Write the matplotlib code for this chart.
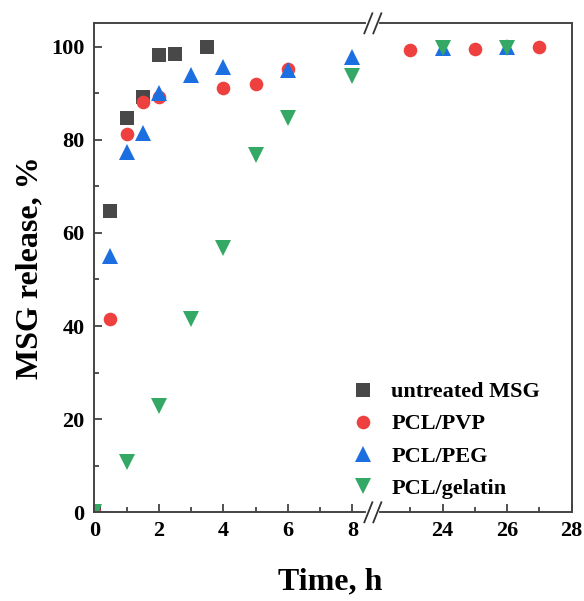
import matplotlib
matplotlib.use('Agg')
import matplotlib.pyplot as plt
import numpy as np
from matplotlib.ticker import FixedLocator

# ------------------------------------------------------------------
# Data
# ------------------------------------------------------------------
t_msg = [0, 0.5, 1, 1.5, 2, 2.5, 3.5]
msg = [0, 64.8, 84.6, 89.2, 98.1, 98.5, 100.0]

t_pvp = [0, 0.5, 1, 1.5, 2, 4, 5, 6, 23, 25, 27]
pvp = [0, 41.6, 81.3, 88.2, 89.2, 91.2, 91.9, 95.1, 99.3, 99.4, 100.0]

t_peg = [0, 0.5, 1, 1.5, 2, 3, 4, 6, 8, 24, 26]
peg = [0, 55.1, 77.3, 81.5, 90.0, 93.8, 95.7, 95.0, 97.8, 99.8, 100.0]

t_gel = [0, 1, 2, 3, 4, 5, 6, 8, 24, 26]
gel = [0, 10.9, 22.9, 41.4, 56.8, 76.8, 84.7, 93.7, 99.7, 99.8]

labels = ['untreated MSG', 'PCL/PVP', 'PCL/PEG', 'PCL/gelatin']
x_major = [0, 2, 4, 6, 8, 24, 26, 28]
x_minor = [1, 3, 5, 7, 23, 25, 27]

# ------------------------------------------------------------------
# broken x axis: 8.6 h ... 21.85 h squeezed to almost nothing
# ------------------------------------------------------------------
lo, hi, eps = 8.63, 21.85, 0.001
shift = (hi - lo) * (1 - eps)

def fwd(t):
    t = np.asarray(t, dtype=float)
    return np.where(t <= lo, t, np.where(t >= hi, t - shift, lo + (t - lo) * eps))

def inv(p):
    p = np.asarray(p, dtype=float)
    pmid = lo + (hi - lo) * eps
    return np.where(p <= lo, p, np.where(p >= pmid, p + shift, lo + (p - lo) / eps))

plt.rcParams['font.family'] = 'serif'
plt.rcParams['font.serif'] = ['Liberation Serif', 'DejaVu Serif']
plt.rcParams['font.weight'] = 'bold'

fig = plt.figure(figsize=(5.84, 6.01), dpi=100)
ax = fig.add_axes([0.1615, 0.1476, 0.8175, 0.8136])
ax.set_xscale('function', functions=(fwd, inv))

ax.plot(t_msg, msg, 's', ms=9.6, color='#484848', mew=0, label=labels[0])
ax.plot(t_pvp, pvp, 'o', ms=9.8, color='#ef4040', mew=0, label=labels[1])
ax.plot(t_peg, peg, '^', ms=12, color='#1b6fe0', mew=0, label=labels[2])
ax.plot(t_gel, gel, 'v', ms=12, color='#34a865', mew=0, label=labels[3])

ax.set_xlim(0, 28)
ax.set_ylim(0, 105)
ax.xaxis.set_major_locator(FixedLocator(x_major))
ax.xaxis.set_minor_locator(FixedLocator(x_minor))
ax.set_yticks(np.arange(0, 101, 20))
ax.set_yticks(np.arange(10, 101, 20), minor=True)
ax.xaxis.set_major_formatter(plt.FuncFormatter(lambda v, _: f'{v:.0f}'))

ax.tick_params(which='both', direction='in', color='#333333', width=1.2,
               labelsize=16)
ax.tick_params(which='major', length=6)
ax.tick_params(which='minor', length=3.5)
ax.tick_params(axis='x', which='major', pad=6)
ax.tick_params(axis='y', which='major', pad=7)

for s in ax.spines.values():
    s.set_color('#444444')
    s.set_linewidth(1.4)

ax.set_xlabel('Time, h', fontsize=23, fontweight='bold')
ax.set_ylabel('MSG release, %', fontsize=23, fontweight='bold')
ax.xaxis.set_label_coords(0.494, -0.112)
ax.yaxis.set_label_coords(-0.105, 0.5)

ax.legend(loc='upper left', bbox_to_anchor=(0.52, 0.285), frameon=False,
          fontsize=16, handlelength=1.0, handletextpad=0.8,
          labelspacing=0.52, numpoints=1, borderaxespad=0)

# break marks "//" on top and bottom spines
fig.canvas.draw()
xb = ax.transAxes.inverted().transform(ax.transData.transform((lo + 0.01, 0)))[0]
w, h = ax.bbox.width, ax.bbox.height
dx, gx, dy = 4.0 / w, 4.5 / w, 10.0 / h
for yb in (0, 1):
    ax.plot([xb - gx, xb + gx], [yb, yb], color='white', lw=3,
            transform=ax.transAxes, clip_on=False, zorder=5)
    for c in (xb - gx, xb + gx):
        ax.plot([c - dx, c + dx], [yb - dy, yb + dy], color='#333333', lw=1.3,
                transform=ax.transAxes, clip_on=False, zorder=6)

fig.savefig('out.png', dpi=100)
